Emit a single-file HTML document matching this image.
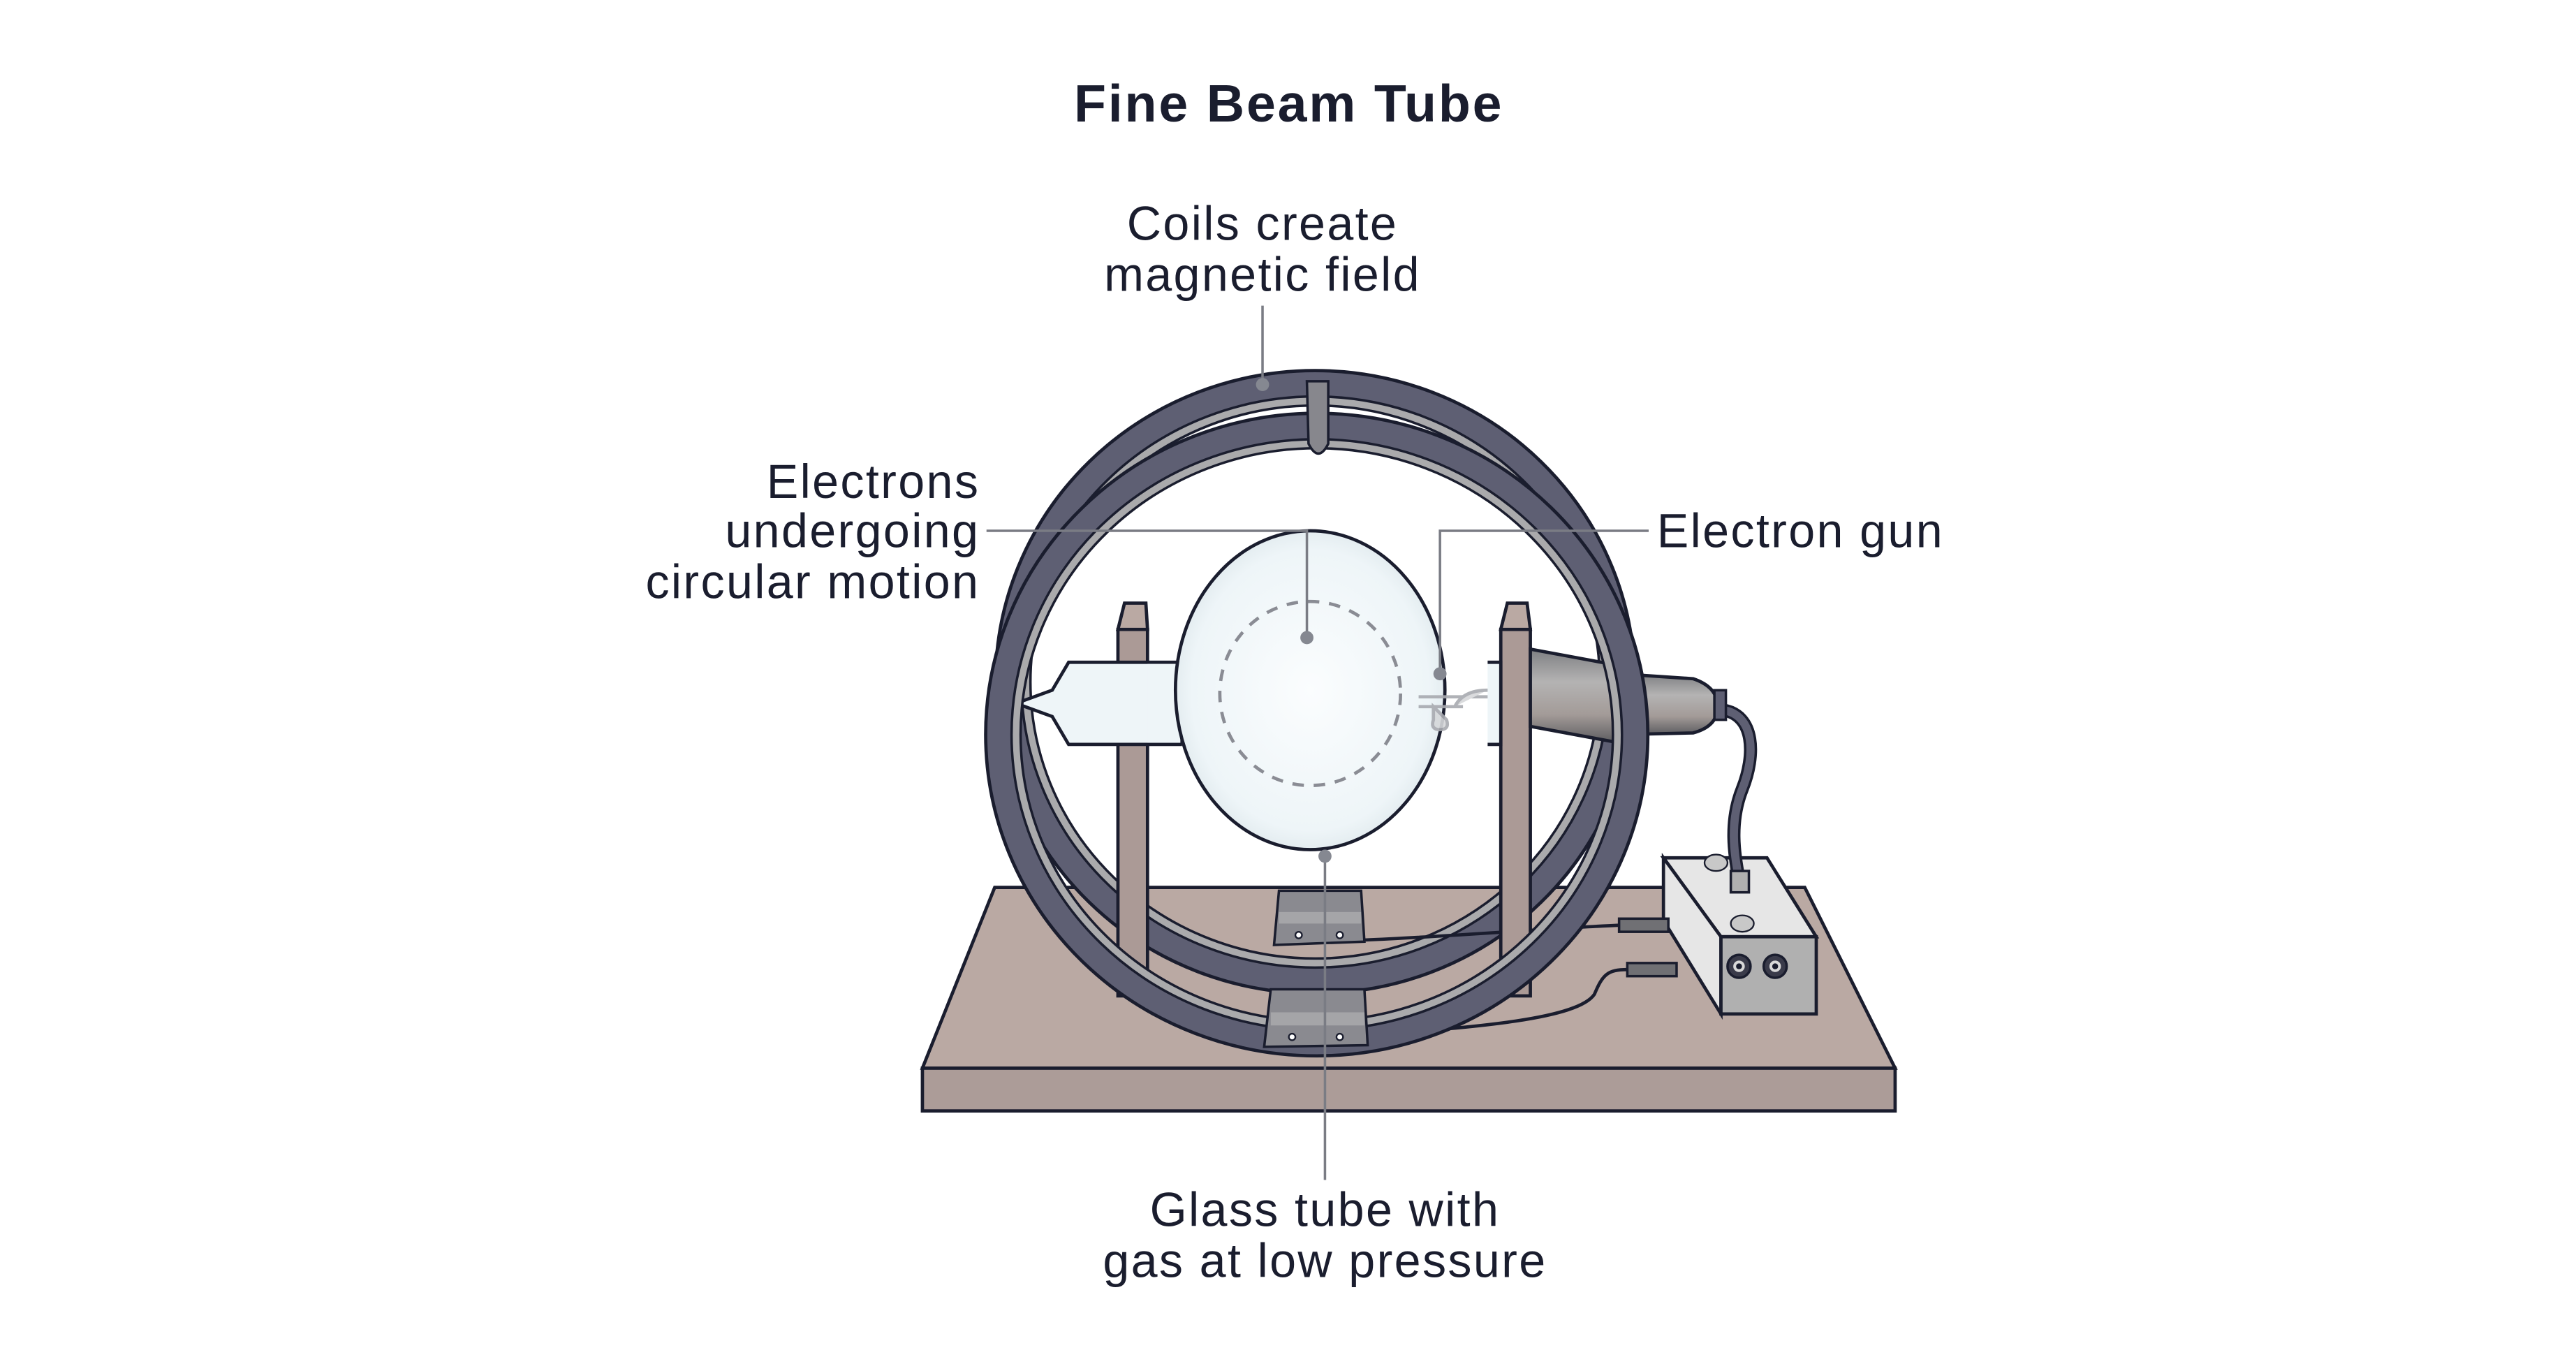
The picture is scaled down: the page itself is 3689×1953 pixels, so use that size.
<!DOCTYPE html>
<html><head><meta charset="utf-8"><style>
html,body{margin:0;padding:0;background:#fff}
svg{display:block}
text{font-family:"Liberation Sans",sans-serif;fill:#1a1d2e}
</style></head><body>
<svg width="3689" height="1953" viewBox="0 0 1567 830" xmlns="http://www.w3.org/2000/svg">
<defs>
<radialGradient id="glass" cx="0.5" cy="0.5" r="0.55">
<stop offset="0" stop-color="#fbfdfe"/><stop offset="0.8" stop-color="#eef5f8"/><stop offset="1" stop-color="#dce6ea"/>
</radialGradient>
<linearGradient id="gun" x1="0" y1="0" x2="0" y2="1">
<stop offset="0" stop-color="#7e7f82"/><stop offset="0.35" stop-color="#b4b3b3"/><stop offset="0.7" stop-color="#a39b98"/><stop offset="1" stop-color="#5c5c60"/>
</linearGradient>
</defs>
<text x="784" y="74" font-size="32" font-weight="bold" text-anchor="middle" letter-spacing="1.2">Fine Beam Tube</text>

<polygon points="605,540 1098,540 1153,650 561,650" fill="#baa9a3" stroke="#1a1d2e" stroke-width="2"/>
<rect x="561" y="650" width="592" height="26" fill="#ac9c98" stroke="#1a1d2e" stroke-width="2"/>

<ellipse cx="800" cy="415" rx="186" ry="181" fill="none" stroke="#1a1d2e" stroke-width="19"/>
<ellipse cx="800" cy="415" rx="186" ry="181" fill="none" stroke="#5e5f73" stroke-width="15"/>
<ellipse cx="800" cy="415" rx="176" ry="171" fill="none" stroke="#1a1d2e" stroke-width="7"/>
<ellipse cx="800" cy="415" rx="176" ry="171" fill="none" stroke="#aaaaac" stroke-width="4"/>

<polygon points="1012,522 1075,522 1105,570 1047,570" fill="#e6e6e6" stroke="#1a1d2e" stroke-width="2"/>
<polygon points="1012,522 1047,570 1047,617 1012,560" fill="#e6e6e6" stroke="#1a1d2e" stroke-width="2"/>
<rect x="1047" y="570" width="58" height="47" fill="#b0b0b0" stroke="#1a1d2e" stroke-width="2"/>
<ellipse cx="1044" cy="525" rx="7" ry="5" fill="#c8c8c8" stroke="#1a1d2e" stroke-width="1"/>
<ellipse cx="1060" cy="562" rx="7" ry="5" fill="#c8c8c8" stroke="#1a1d2e" stroke-width="1"/>
<circle cx="1058" cy="588" r="7" fill="#3a3b4a" stroke="#1a1d2e" stroke-width="1.5"/><circle cx="1058" cy="588" r="3.5" fill="#d8d8d8"/><circle cx="1058" cy="588" r="1.8" fill="#1a1d2e"/>
<circle cx="1080" cy="588" r="7" fill="#3a3b4a" stroke="#1a1d2e" stroke-width="1.5"/><circle cx="1080" cy="588" r="3.5" fill="#d8d8d8"/><circle cx="1080" cy="588" r="1.8" fill="#1a1d2e"/>
<path d="M1048,432 C1068,435 1068,460 1060,480 C1052,500 1055,520 1058,535" fill="none" stroke="#1a1d2e" stroke-width="8"/>
<path d="M1048,432 C1068,435 1068,460 1060,480 C1052,500 1055,520 1058,535" fill="none" stroke="#5e5f73" stroke-width="5"/>
<rect x="1053" y="530" width="11" height="13" fill="#b0b0b0" stroke="#1a1d2e" stroke-width="1.5"/>
<path d="M830,572 C880,570 940,565 985,563" fill="none" stroke="#1a1d2e" stroke-width="2"/>
<rect x="985" y="559" width="30" height="8" fill="#707074" stroke="#1a1d2e" stroke-width="1.5"/>
<path d="M830,630 C900,625 960,620 970,605 C975,593 978,590 990,590" fill="none" stroke="#1a1d2e" stroke-width="2"/>
<rect x="990" y="586" width="30" height="8" fill="#707074" stroke="#1a1d2e" stroke-width="1.5"/>

<rect x="680" y="383" width="18" height="223" fill="#ab9a96" stroke="#1a1d2e" stroke-width="2"/>
<polygon points="680,383 684,367 697,367 698,383" fill="#baa9a3" stroke="#1a1d2e" stroke-width="2"/>
<rect x="913" y="383" width="18" height="223" fill="#ab9a96" stroke="#1a1d2e" stroke-width="2"/>
<polygon points="913,383 917,367 929,367 931,383" fill="#baa9a3" stroke="#1a1d2e" stroke-width="2"/>

<path d="M718,403 L650,403 L640,420 L618,428 L640,436 L650,453 L718,453 Z" fill="#eef5f8" stroke="#1a1d2e" stroke-width="2"/>
<rect x="698" y="404" width="20" height="48" fill="#eef5f8"/>
<path d="M905,403 L913,403 L913,453 L905,453" fill="#eef5f8" stroke="#1a1d2e" stroke-width="2"/>
<ellipse cx="797" cy="420" rx="82" ry="97" fill="url(#glass)" stroke="#1a1d2e" stroke-width="2"/>
<ellipse cx="797" cy="422" rx="55" ry="56" fill="none" stroke="#8a8c94" stroke-width="2" stroke-dasharray="7,6"/>
<g stroke="#a8aab0" stroke-width="2" fill="#d6d8da" opacity="0.9">
<line x1="863" y1="424" x2="905" y2="424"/><line x1="863" y1="430" x2="890" y2="430"/>
<path d="M872,430 L872,438 Q870,444 876,444 Q882,444 880,438 Z"/>
<path d="M885,430 Q890,420 905,420"/>
</g>
<path d="M931,395 L985,405 L985,452 L931,442 Z" fill="url(#gun)" stroke="#1a1d2e" stroke-width="2"/>
<path d="M985,410 L1030,413 Q1045,418 1045,430 Q1045,442 1030,446 L985,447 Z" fill="url(#gun)" stroke="#1a1d2e" stroke-width="2"/>
<rect x="1043" y="420" width="7" height="18" fill="#5e5f73" stroke="#1a1d2e" stroke-width="1.5"/>

<ellipse cx="801" cy="447" rx="193" ry="187" fill="none" stroke="#1a1d2e" stroke-width="19"/>
<ellipse cx="801" cy="447" rx="193" ry="187" fill="none" stroke="#5e5f73" stroke-width="15"/>
<ellipse cx="801" cy="447" rx="183" ry="177" fill="none" stroke="#1a1d2e" stroke-width="7"/>
<ellipse cx="801" cy="447" rx="183" ry="177" fill="none" stroke="#aaaaac" stroke-width="4"/>

<path d="M795,232 L808,232 L808,270 Q802,282 796,270 Z" fill="#87878d" stroke="#1a1d2e" stroke-width="1.5"/>
<polygon points="778,542 828,542 830,573 775,575" fill="#8a8a90" stroke="#1a1d2e" stroke-width="1.5"/>
<polygon points="778,555 828,555 828,562 778,562" fill="#a5a5a8"/>
<circle cx="790" cy="569" r="2" fill="#fff" stroke="#1a1d2e"/><circle cx="815" cy="569" r="2" fill="#fff" stroke="#1a1d2e"/>
<polygon points="773,602 830,602 832,636 769,637" fill="#8a8a90" stroke="#1a1d2e" stroke-width="1.5"/>
<polygon points="773,616 830,616 830,624 773,624" fill="#a5a5a8"/>
<circle cx="786" cy="631" r="2" fill="#fff" stroke="#1a1d2e"/><circle cx="815" cy="631" r="2" fill="#fff" stroke="#1a1d2e"/>

<g stroke="#7a7c84" stroke-width="1.5" fill="none">
<line x1="768" y1="186" x2="768" y2="233"/>
<polyline points="600,323 795,323 795,388"/>
<polyline points="1003,323 876,323 876,410"/>
<line x1="806" y1="521" x2="806" y2="718"/>
</g>
<g fill="#858891">
<circle cx="768" cy="234" r="4"/><circle cx="795" cy="388" r="4"/><circle cx="876" cy="410" r="4"/><circle cx="806" cy="521" r="4"/>
</g>

<g font-size="29" letter-spacing="1">
<text x="768" y="146" text-anchor="middle">Coils create</text>
<text x="768" y="177" text-anchor="middle">magnetic field</text>
<text x="596" y="303" text-anchor="end">Electrons</text>
<text x="596" y="333" text-anchor="end">undergoing</text>
<text x="596" y="364" text-anchor="end">circular motion</text>
<text x="1008" y="333">Electron gun</text>
<text x="806" y="746" text-anchor="middle">Glass tube with</text>
<text x="806" y="777" text-anchor="middle">gas at low pressure</text>
</g>
</svg>
</body></html>
